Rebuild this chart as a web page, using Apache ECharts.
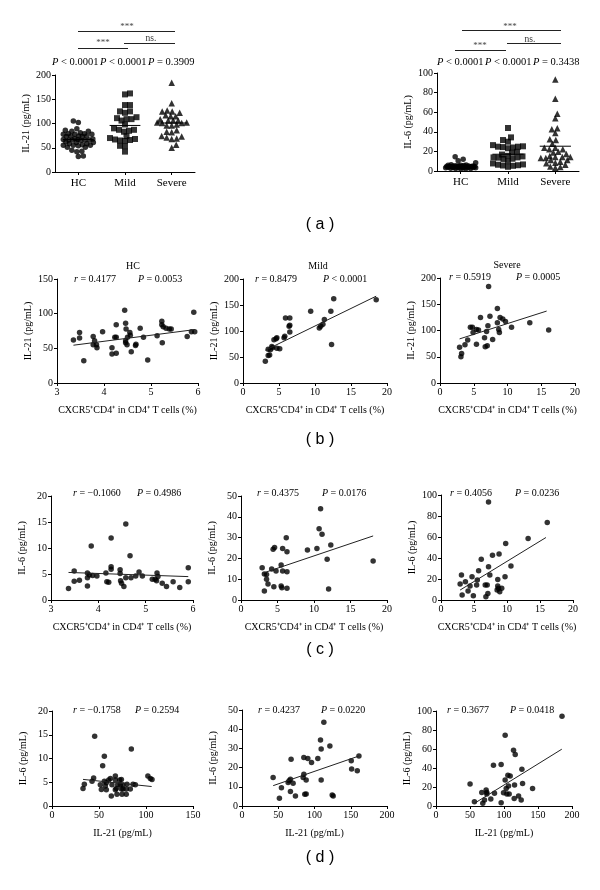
<!DOCTYPE html>
<html><head><meta charset="utf-8">
<script src="https://cdn.jsdelivr.net/npm/echarts@6/dist/echarts.min.js"></script>
<style>html,body{margin:0;padding:0;background:#fff}#c{width:600px;height:890px}</style>
</head><body><div id="c"></div><script>
// ---------- data ----------
const groups = ['HC', 'Mild', 'Severe'];
const meanIL21 = [67, 96, 101];
const meanIL6 = [4.1, 17.1, 25.3];
const pTextsIL21 = ['< 0.0001', '< 0.0001', '= 0.3909'];
const pTextsIL6 = ['< 0.0001', '< 0.0001', '= 0.3438'];

// (b) CXCR5+CD4+ (%) vs IL-21
const bHC = [[3.35,62],[3.48,73],[3.48,65],[3.57,32],[3.77,67],[3.77,55],[3.8,61],[3.84,55],[3.85,51],[3.97,74],[4.17,51],[4.17,42],[4.23,66],[4.26,66],[4.26,84],[4.26,43],[4.44,105],[4.46,86],[4.47,78],[4.46,61],[4.46,58],[4.49,55],[4.5,66],[4.55,73],[4.56,69],[4.58,45],[4.67,54],[4.68,56],[4.77,79],[4.84,66],[4.93,33],[5.13,68],[5.23,89],[5.23,84],[5.24,58],[5.26,81],[5.32,79],[5.39,78],[5.43,78],[5.77,67],[5.86,74],[5.91,102],[5.93,74]];
const bMild = [[3.1,42],[3.5,53],[3.7,54],[3.5,65],[3.8,64],[4.0,70],[4.1,68],[4.3,83],[4.6,85],[4.7,87],[4.7,67],[5.1,66],[5.7,87],[5.8,90],[5.9,125],[6.4,109],[6.5,98],[6.5,111],[6.5,125],[9.4,138],[10.6,106],[10.8,109],[11.1,113],[11.3,122],[12.2,138],[12.3,74],[12.6,162],[18.5,160]];
const bSevere = [[2.9,68],[3.1,50],[3.2,56],[3.7,73],[4.1,82],[4.5,106],[4.8,106],[4.9,96],[5.4,102],[5.7,101],[5.4,74],[6.0,125],[6.6,86],[6.7,69],[6.9,98],[7.0,71],[7.2,184],[7.1,109],[7.4,127],[7.8,83],[8.5,115],[8.5,142],[8.7,102],[8.8,96],[8.9,125],[9.3,122],[9.7,117],[10.6,106],[13.3,115],[16.1,101]];
// (c) CXCR5+CD4+ (%) vs IL-6
const cHC = [[3.37,2.2],[3.49,5.6],[3.49,3.6],[3.6,3.8],[3.77,5.2],[3.77,2.7],[3.77,4.3],[3.81,4.8],[3.85,10.4],[3.88,4.7],[3.97,4.6],[4.16,5.2],[4.18,3.5],[4.22,3.4],[4.27,11.9],[4.27,6.4],[4.27,5.9],[4.46,5.8],[4.46,5.1],[4.47,3.7],[4.49,3.2],[4.54,2.6],[4.58,4.3],[4.58,14.6],[4.67,8.5],[4.69,4.3],[4.79,4.6],[4.86,5.4],[4.93,4.6],[5.14,4.0],[5.2,4.0],[5.24,5.2],[5.26,4.5],[5.23,3.7],[5.35,3.2],[5.44,2.6],[5.58,3.5],[5.72,2.4],[5.9,6.2],[5.9,3.5]];
const cMild = [[2.9,15.5],[3.2,12.5],[3.2,4.3],[3.5,12.3],[3.5,10],[3.7,7.7],[4.2,14.9],[4.4,24.4],[4.6,25.2],[4.5,6.4],[4.8,13.9],[5.5,16.8],[5.5,6.7],[5.6,5.9],[5.7,24.8],[5.7,13.9],[6.2,29.9],[6.3,23.2],[6.3,13.6],[6.3,5.6],[9.1,24.0],[10.4,24.8],[10.7,34.3],[10.9,43.9],[11.1,31.6],[11.8,19.6],[12.0,5.3],[12.3,26.4],[18.1,18.7]];
const cSevere = [[2.9,15.2],[3.1,23.7],[3.2,4.7],[3.7,17.4],[4.1,8.5],[4.4,13.3],[4.7,22.2],[4.9,4.1],[5.5,19.0],[5.4,14.2],[5.7,27.8],[6.1,38.9],[6.7,14.2],[6.8,3.2],[7.0,14.2],[7.1,6.3],[7.2,31.6],[7.2,93.4],[7.4,23.7],[7.8,42.7],[8.6,19.6],[8.6,13.3],[8.7,11.1],[8.5,9.5],[8.8,43.7],[8.9,7.9],[9.2,11.1],[9.7,22.2],[9.8,53.8],[10.6,32.3],[13.2,58.5],[16.1,73.7]];
// (d) IL-21 vs IL-6
const dHC = [[33,3.7],[34.4,4.6],[42.6,5.2],[44.3,5.9],[45.4,14.7],[51.4,4.5],[52.5,3.5],[53.9,8.5],[55.7,10.5],[55.7,5.2],[56.7,4.2],[57.8,4.9],[57.8,3.4],[60.3,5.5],[62.1,5.8],[63.1,2.1],[63.8,4.5],[67.4,5.5],[67.4,6.3],[67.4,3.4],[68.4,3.7],[69.1,2.5],[69.9,4.5],[72,5.5],[72.7,4.5],[73.8,5.6],[73.8,3.6],[74.5,2.5],[75.5,4.5],[75.5,3.6],[79,2.5],[79,3.6],[79.8,4.6],[83.3,3.6],[84.4,12.0],[86.2,4.6],[88.7,4.5],[102,6.3],[104.6,5.8],[106.4,5.6]];
const dMild = [[42.9,14.9],[51.6,4.0],[54.4,9.5],[63.6,12.2],[65,13.2],[66.8,13.9],[66.8,7.5],[67.7,24.3],[70.5,11.8],[73.7,5.2],[84.3,14.9],[85.3,16.5],[85.3,25.3],[86.6,6.1],[88.5,6.3],[88.5,13.5],[90.8,24.8],[95.9,22.6],[104.6,24.7],[108.3,34.4],[109.2,29.7],[109.2,13.5],[112.9,43.6],[121.2,31.3],[124.4,5.7],[125.8,5.2],[150.7,23.6],[151.2,19.3],[159,18.4],[161.3,26.0]];
const dSevere = [[50.1,23.1],[56.5,4.5],[67.3,14.3],[68.8,2.8],[71.3,6.3],[73.7,16.8],[74.7,12.6],[74.7,14.3],[80.6,7.3],[84.5,43.0],[86,13.3],[95.8,43.7],[95.8,3.5],[99.3,14.0],[101.7,74.5],[101.7,27.3],[103.2,18.5],[104.2,12.6],[105.7,32.5],[106.6,21],[107.6,12.6],[109.1,31.5],[114,58.7],[115,8],[115.5,22],[116.5,54.2],[121.4,10.5],[125.3,6.3],[126.3,38.8],[127.3,23.8],[142,18.5],[185.3,94.4]];
// regression lines (end points)
const fitB = [[[3.35,54.5],[5.93,77]], [[3.1,63],[18.5,167]], [[2.9,84],[15.8,137]]];
const fitC = [[[3.37,5.3],[5.9,4.5]], [[2.9,12.8],[18.1,30.8]], [[2.9,9.5],[15.9,59.5]]];
const fitD = [[[33,5.6],[106,4.1]], [[43,10.6],[161,26]], [[56.5,2.8],[185,59.8]]];
const rB = ['0.4177','0.8479','0.5919'], pB = ['= 0.0053','< 0.0001','= 0.0005'];
const rC = ['\u22120.1060','0.4375','0.4056'], pC = ['= 0.4986','= 0.0176','= 0.0236'];
const rD = ['\u22120.1758','0.4237','0.3677'], pD = ['= 0.2594','= 0.0220','= 0.0418'];

// ---------- layout ----------
const SERIF = '"Liberation Serif","Times New Roman",serif';
const SANS = '"Liberation Sans",Arial,sans-serif';
const grids = [
  {left:55, top:75, width:140, height:97},
  {left:437, top:73, width:142, height:98},
  {left:57, top:279, width:141, height:104},
  {left:243, top:279, width:144, height:104},
  {left:440, top:278, width:135, height:105},
  {left:51, top:496, width:142, height:104},
  {left:241, top:496, width:146, height:104},
  {left:441, top:495, width:132, height:105},
  {left:52, top:711, width:141, height:95},
  {left:242, top:710, width:145, height:96},
  {left:436, top:711, width:136, height:95}
];
const xAxes = [], yAxes = [], series = [];
function axisBase(extra){
  return Object.assign({
    axisLine:{show:true,onZero:false,lineStyle:{color:'#000',width:1}},
    axisTick:{show:true,length:3,lineStyle:{color:'#000',width:1}},
    axisLabel:{color:'#000',fontFamily:SERIF,fontSize:10,margin:4},
    splitLine:{show:false},
    nameTextStyle:{color:'#000',fontFamily:SERIF,fontSize:10}
  }, extra);
}
function addX(extra){ xAxes.push(axisBase(extra)); return xAxes.length-1; }
function addY(extra){ yAxes.push(axisBase(extra)); return yAxes.length-1; }

// beeswarm layout (pixel based, for panel a)
function swarm(values, center, pxY, pxX, D, maxOff){
  const idx = values.map((v,i)=>i).sort((a,b)=>values[a]-values[b]);
  const placed = [], out = [];
  idx.forEach((i,k)=>{
    const y = values[i]*pxY;
    let best = null, fb = 0, fbd = -1;
    for (let o=0;o<=maxOff && best===null;o+=0.5){
      const cands = o===0?[0]:(k%2?[o,-o]:[-o,o]);
      for (const s of cands){
        let md = Infinity;
        for (const p of placed){ const d=Math.hypot(p[0]-s,p[1]-y); if(d<md) md=d; }
        if (md>=D && best===null) best = s;
        if (md>fbd){ fbd=md; fb=s; }
      }
    }
    const x = best!==null?best:fb;
    placed.push([x,y]);
    out.push([center + x/pxX, values[i]]);
  });
  return out;
}

// ----- panel (a) -----
const symbols = ['circle','rect','triangle'];
const symSizes = [5.5,6,6.5];
function panelA(gi, valsList, means, ymax, yint, yname){
  const g = grids[gi];
  addX({type:'category',gridIndex:gi,data:groups,boundaryGap:true,axisTick:{show:true,alignWithLabel:true,length:3,lineStyle:{color:'#000'}},axisLabel:{color:'#000',fontFamily:SERIF,fontSize:11,margin:6}});
  const xv = addX({type:'value',gridIndex:gi,min:0.5,max:3.5,show:false});
  const yi = addY({type:'value',gridIndex:gi,min:0,max:ymax,interval:yint,name:yname,nameLocation:'middle',nameGap:24});
  const pxY = g.height/ymax, pxX = g.width/3;
  valsList.forEach((vals,k)=>{
    series.push({type:'scatter',xAxisIndex:xv,yAxisIndex:yi,symbol:symbols[k],symbolSize:symSizes[k],
      itemStyle:{color:'#000'},data:swarm(vals,k+1,pxY,pxX,5,15),silent:true});
    series.push({type:'line',xAxisIndex:xv,yAxisIndex:yi,symbol:'none',lineStyle:{color:'#000',width:1},
      data:[[k+1-0.33,means[k]],[k+1+0.33,means[k]]],silent:true});
  });
}
panelA(0,[bHC.map(p=>p[1]),bMild.map(p=>p[1]),bSevere.map(p=>p[1])],meanIL21,200,50,'IL-21 (pg/mL)');
panelA(1,[cHC.map(p=>p[1]),cMild.map(p=>p[1]),cSevere.map(p=>p[1])],meanIL6,100,20,'IL-6 (pg/mL)');

// ----- scatter panels -----
const CX = 'CXCR5\u207ACD4\u207A in CD4\u207A T cells (%)';
function scatterPanel(gi, data, fit, xmin, xmax, xint, ymax, yint, xname, yname){
  const xi = addX({type:'value',gridIndex:gi,min:xmin,max:xmax,interval:xint,name:xname,nameLocation:'middle',nameGap:22});
  const yi = addY({type:'value',gridIndex:gi,min:0,max:ymax,interval:yint,name:yname,nameLocation:'middle',nameGap:24});
  series.push({type:'scatter',xAxisIndex:xi,yAxisIndex:yi,symbol:'circle',symbolSize:5.5,itemStyle:{color:'#000'},data:data,silent:true});
  series.push({type:'line',xAxisIndex:xi,yAxisIndex:yi,symbol:'none',lineStyle:{color:'#222',width:1},data:fit,silent:true});
}
scatterPanel(2,bHC,fitB[0],3,6,1,150,50,CX,'IL-21 (pg/mL)');
scatterPanel(3,bMild,fitB[1],0,20,5,200,50,CX,'IL-21 (pg/mL)');
scatterPanel(4,bSevere,fitB[2],0,20,5,200,50,CX,'IL-21 (pg/mL)');
scatterPanel(5,cHC,fitC[0],3,6,1,20,5,CX,'IL-6 (pg/mL)');
scatterPanel(6,cMild,fitC[1],0,20,5,50,10,CX,'IL-6 (pg/mL)');
scatterPanel(7,cSevere,fitC[2],0,20,5,100,20,CX,'IL-6 (pg/mL)');
scatterPanel(8,dHC,fitD[0],0,150,50,20,5,'IL-21 (pg/mL)','IL-6 (pg/mL)');
scatterPanel(9,dMild,fitD[1],0,200,50,50,10,'IL-21 (pg/mL)','IL-6 (pg/mL)');
scatterPanel(10,dSevere,fitD[2],0,200,50,100,20,'IL-21 (pg/mL)','IL-6 (pg/mL)');

// ---------- annotations ----------
const graphic = [];
function txt(text,x,y,opt){
  graphic.push({type:'text',x:x,y:y,silent:true,style:Object.assign({text:text,fill:'#000',fontFamily:SERIF,fontSize:10,align:'left',verticalAlign:'middle',
    rich:{i:{fontStyle:'italic',fontFamily:SERIF,fontSize:(opt&&opt.fontSize)||10}}},opt||{})});
}
function ln(x1,y1,x2,y2){ graphic.push({type:'line',silent:true,shape:{x1,y1,x2,y2},style:{stroke:'#222',lineWidth:1}}); }
// panel (a) P values and brackets
[52,100,148].forEach((x,k)=>txt('{i|P} '+pTextsIL21[k],x,62,{fontSize:10.5}));
[437,485,533].forEach((x,k)=>txt('{i|P} '+pTextsIL6[k],x,62,{fontSize:10.5}));
ln(78,31.5,175,31.5); ln(78,48.5,128,48.5); ln(124,43.5,175,43.5);
ln(462,30.5,561,30.5); ln(455,50.5,506,50.5); ln(507,43.5,561,43.5);
txt('***',127,27,{align:'center',fontSize:9,fill:'#444'});
txt('***',103,43,{align:'center',fontSize:9,fill:'#444'});
txt('ns.',151,38,{align:'center',fontSize:9.5,fill:'#333'});
txt('***',510,27,{align:'center',fontSize:9,fill:'#444'});
txt('***',480,46,{align:'center',fontSize:9,fill:'#444'});
txt('ns.',530,39,{align:'center',fontSize:9.5,fill:'#333'});
// panel (b) titles
txt('HC',133,266,{align:'center'}); txt('Mild',318,266,{align:'center'}); txt('Severe',507,265,{align:'center'});
// r / P texts
const rx = [[74,138],[255,323],[449,516]];
const rxc = [[73,137],[257,322],[450,515]];
const rxd = [[73,135],[258,321],[447,510]];
for (let k=0;k<3;k++){
  txt('{i|r} = '+rB[k],rx[k][0],k===2?277:279); txt('{i|P} '+pB[k],rx[k][1],k===2?277:279);
  txt('{i|r} = '+rC[k],rxc[k][0],493); txt('{i|P} '+pC[k],rxc[k][1],493);
  txt('{i|r} = '+rD[k],rxd[k][0],710); txt('{i|P} '+pD[k],rxd[k][1],710);
}
// panel labels
[['( a )',225],['( b )',440],['( c )',650],['( d )',858]].forEach(l=>{
  graphic.push({type:'text',x:320,y:l[1],silent:true,style:{text:l[0],fill:'#000',fontFamily:SANS,fontSize:16,align:'center',verticalAlign:'middle'}});
});

const chart = echarts.init(document.getElementById('c'),null,{renderer:'canvas'});
chart.setOption({
  backgroundColor:'#fff',
  animation:false,
  grid:grids,
  xAxis:xAxes,
  yAxis:yAxes,
  series:series,
  graphic:graphic
});
</script></body></html>
